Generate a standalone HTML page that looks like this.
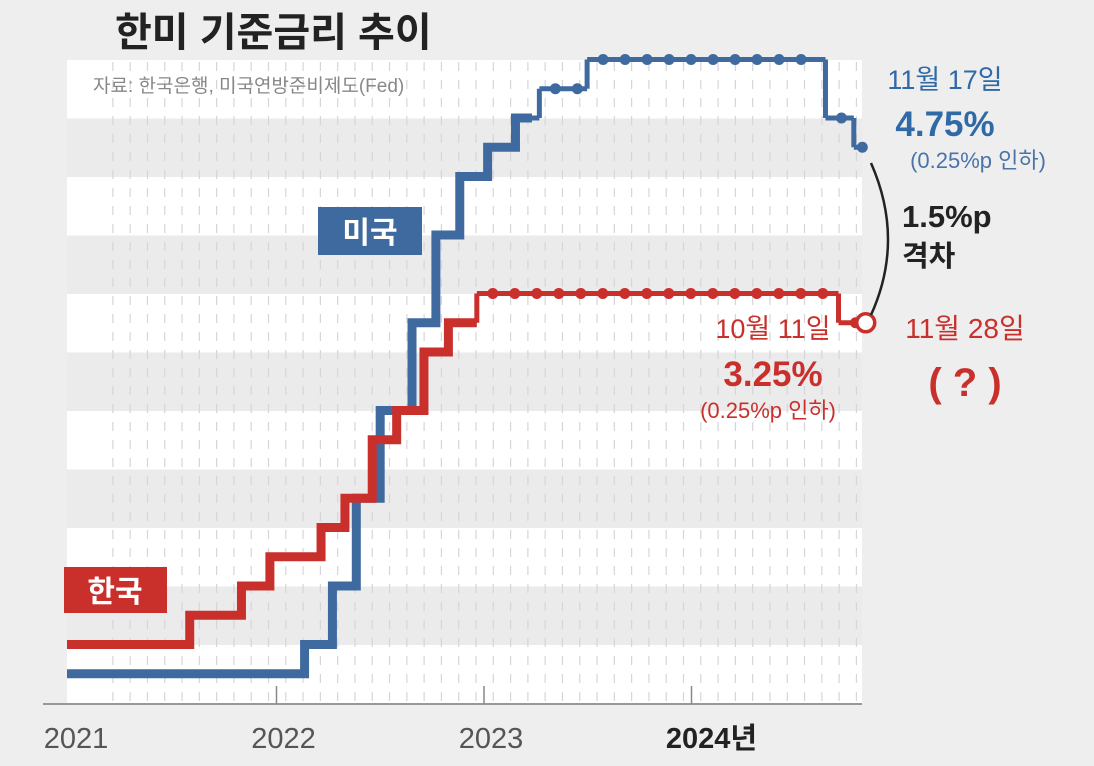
<!DOCTYPE html>
<html><head><meta charset="utf-8"><style>
html,body{margin:0;padding:0;background:#eeeeef;}
svg{display:block;font-family:"Liberation Sans","Noto Sans CJK KR",sans-serif;}
</style></head><body>
<svg id="c" width="1094" height="766" viewBox="0 0 1094 766">
<rect x="0" y="0" width="1094" height="766" fill="#eeeeef"/>
<g id="bands"></g>
<g id="grid"></g>
<text x="115" y="46" font-size="40" font-weight="bold" fill="#222">한미 기준금리 추이</text>
<text x="93" y="92" font-size="19" fill="#888">자료: 한국은행, 미국연방준비제도(Fed)</text>
<line x1="43" y1="704" x2="862" y2="704" stroke="#999" stroke-width="2"/>
<g id="xticks"></g>
<g id="series"></g>
<rect x="318" y="207" width="104" height="48" fill="#3f6aa0"/>
<text x="370" y="243" font-size="30" font-weight="bold" fill="#fff" text-anchor="middle">미국</text>
<rect x="64" y="567" width="103" height="46" fill="#c9302c"/>
<text x="115" y="602" font-size="30" font-weight="bold" fill="#fff" text-anchor="middle">한국</text>
<text x="945" y="89" font-size="27" fill="#2f6aa6" text-anchor="middle">11월 17일</text>
<text x="945" y="136" font-size="35" font-weight="bold" fill="#2f6aa6" text-anchor="middle">4.75%</text>
<text x="978" y="168" font-size="22" fill="#4a74a8" text-anchor="middle">(0.25%p 인하)</text>
<path d="M871 163 Q905 240 871 315" fill="none" stroke="#222" stroke-width="2.5"/>
<text x="902" y="227" font-size="31" font-weight="bold" fill="#222">1.5%p</text>
<text x="902" y="266" font-size="29" font-weight="bold" fill="#222">격차</text>
<text x="773" y="338" font-size="27" fill="#c9302c" text-anchor="middle">10월 11일</text>
<text x="773" y="386" font-size="35" font-weight="bold" fill="#c9302c" text-anchor="middle">3.25%</text>
<text x="768" y="418" font-size="22" fill="#c9302c" text-anchor="middle">(0.25%p 인하)</text>
<text x="965" y="338" font-size="28" fill="#c9302c" text-anchor="middle">11월 28일</text>
<text x="965" y="396" font-size="40" font-weight="bold" fill="#c9302c" text-anchor="middle">( ? )</text>
</svg>
<script>
const usDates=["2021-01-01","2022-03-16","2022-05-04","2022-06-15","2022-07-27","2022-09-21","2022-11-02","2022-12-14","2023-02-01","2023-03-22","2023-05-03","2023-07-26","2024-09-18","2024-11-07"];
const usRates=[0.25,0.5,1.0,1.75,2.5,3.25,4.0,4.5,4.75,5.0,5.25,5.5,5.0,4.75];
const krDates=["2021-01-01","2021-08-26","2021-11-25","2022-01-14","2022-04-14","2022-05-26","2022-07-13","2022-08-25","2022-10-12","2022-11-24","2023-01-13","2024-10-11"];
const krRates=[0.5,0.75,1.0,1.25,1.5,1.75,2.25,2.5,3.0,3.25,3.5,3.25];
const usEnd="2024-11-22";
const krEnd="2024-11-10";
const krNext="2024-11-28";
const usDottedFrom="2023-04-20";
const krDottedFrom="2023-01-13";
const tickLabels=["2021","2022","2023","2024년"];
const tickYears=[2021,2022,2023,2024];

const NS="http://www.w3.org/2000/svg";
function yr(d){const t=new Date(d+"T00:00:00Z");const y=t.getUTCFullYear();const s=Date.UTC(y,0,1),e=Date.UTC(y+1,0,1);return y+(t-s)/(e-s);}
function x(d){const v=67+(yr(d)-2021)*207.5-12;return Math.max(67,v);}
function xy(v){return 67+(v-2021)*207.5;}
function y(r){return 703-r*117;}
function mk(tag,attrs,parent){const e=document.createElementNS(NS,tag);for(const k in attrs)e.setAttribute(k,attrs[k]);parent.appendChild(e);return e;}

const bands=document.getElementById('bands');
for(let i=0;i<11;i++){
  const r=mk('rect',{x:67,y:60+i*58.5,width:795,height:58.5,fill:i%2?'#ebebec':'#ffffff'},bands);
  
  
}
const grid=document.getElementById('grid');
for(let m=0;m<48;m++){
  const gx=xy(2021+m/12)-6;
  if(gx<100||gx>860)continue;
  const l=mk('line',{x1:gx,y1:62,x2:gx,y2:702,stroke:'#d6d6d9','stroke-width':1.2,'stroke-dasharray':'9 9'},grid);
  
  
}
const xt=document.getElementById('xticks');
tickYears.forEach((v,i)=>{
  const tx=xy(v)+2;
  if(i>0){const l=mk('line',{x1:tx,y1:686,x2:tx,y2:704,stroke:'#888','stroke-width':1.5},xt);
  
  }
  const t=mk('text',{x:tx+(i==3?20:7),y:748,'font-size':29,fill:i==3?'#222':'#555','text-anchor':'middle','font-weight':i==3?'bold':'normal'},xt);
  t.textContent=tickLabels[i];
  
  
});

const ser=document.getElementById('series');
function drawSeries(dates,rates,end,color,name,dottedFrom){
  const xd=x(dottedFrom);
  let solid=`M${x(dates[0])},${y(rates[0])}`;
  let dotted='';
  const pts=[];
  for(let i=0;i<dates.length;i++){
    const x0=x(dates[i]);const x1=i+1<dates.length?x(dates[i+1]):x(end);
    if(i>0){
      const vx=x0,ya=y(rates[i-1]),yb=y(rates[i]);
      if(vx<xd){solid+=`L${vx},${yb}`;}else{dotted+=`M${vx},${ya}L${vx},${yb}`;}
    }
    if(x1<=xd){solid+=`L${x1},${y(rates[i])}`;}
    else if(x0<xd){solid+=`L${xd},${y(rates[i])}`;dotted+=`M${xd},${y(rates[i])}L${x1},${y(rates[i])}`;pts.push([xd,x1,y(rates[i])]);}
    else{dotted+=`M${x0},${y(rates[i])}L${x1},${y(rates[i])}`;pts.push([x0,x1,y(rates[i])]);}
  }
  const p=mk('path',{d:solid,fill:'none',stroke:color,'stroke-width':9,'stroke-linejoin':'miter'},ser);
  
  
  const q=mk('path',{d:dotted,fill:'none',stroke:color,'stroke-width':5},ser);
  
  
  pts.forEach(([a,b,yy])=>{
    for(let px=a+16;px<b-6;px+=22){
      const c=mk('circle',{cx:px,cy:yy,r:5.5,fill:color},ser);
      
      
    }
  });
  const e=mk('circle',{cx:x(end),cy:y(rates[rates.length-1]),r:5.5,fill:color},ser);
  
  
}
drawSeries(usDates,usRates,usEnd,'#3f6aa0','us',usDottedFrom);
drawSeries(krDates,krRates,krEnd,'#c9302c','korea',krDottedFrom);
const lastKr=krRates[krRates.length-1];
const lk=mk('line',{x1:x(krEnd),y1:y(lastKr),x2:x(krNext),y2:y(lastKr),stroke:'#c9302c','stroke-width':4},ser);


const nc=mk('circle',{cx:x(krNext),cy:y(lastKr),r:9,fill:'#fff',stroke:'#c9302c','stroke-width':3.5},ser);


</script>
</body></html>
